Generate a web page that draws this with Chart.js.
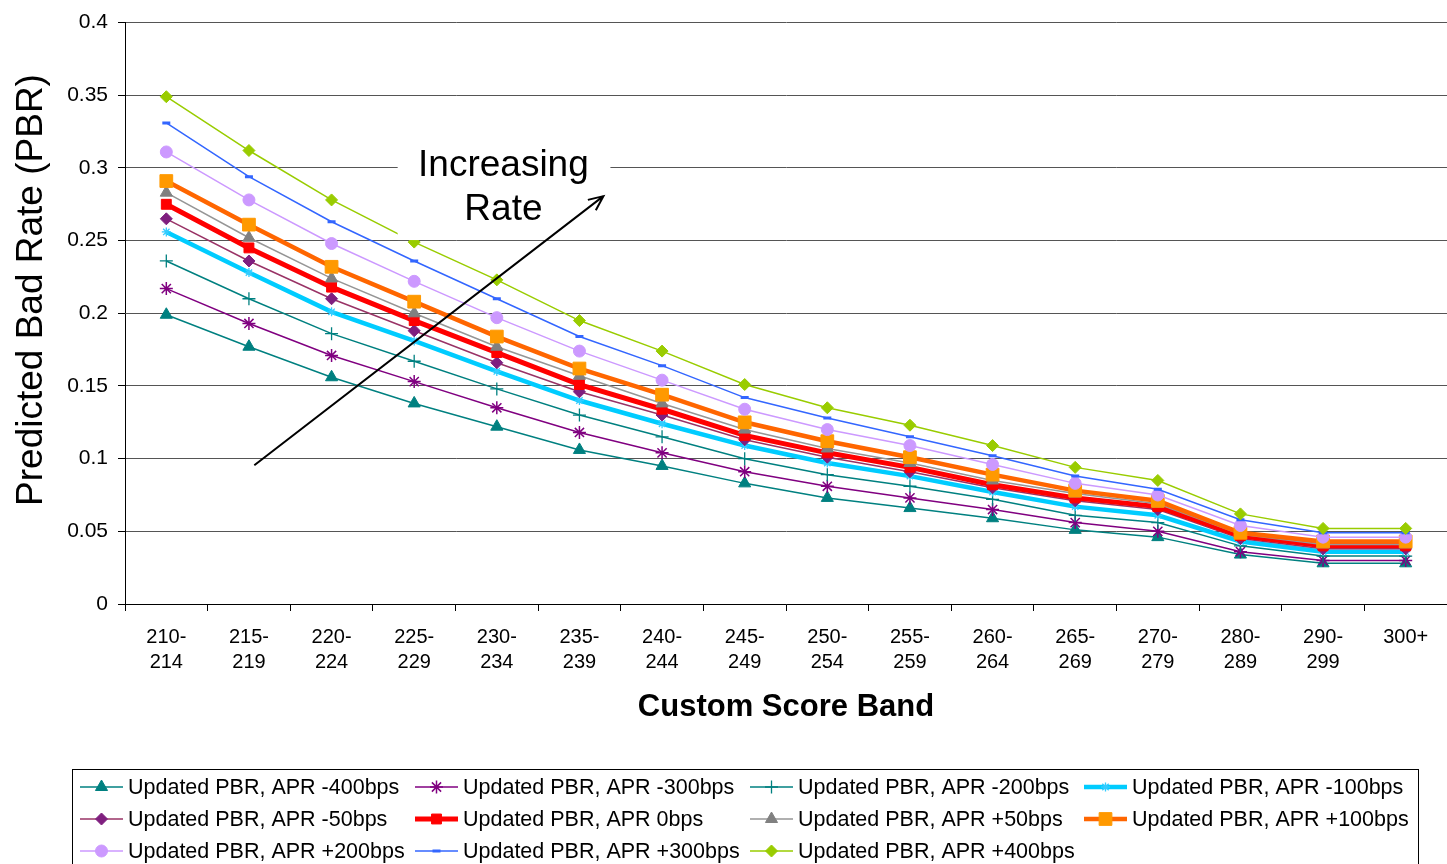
<!DOCTYPE html>
<html>
<head>
<meta charset="utf-8">
<title>Predicted Bad Rate by Custom Score Band</title>
<script src="https://cdn.jsdelivr.net/npm/chart.js@4/dist/chart.umd.min.js"></script>
<style>
  html, body { margin: 0; padding: 0; background: #ffffff; }
  #wrap { width: 1447px; height: 864px; position: relative; overflow: hidden; }
  canvas { display: block; }
</style>
</head>
<body>
<div id="wrap"><canvas id="chart" width="1447" height="864"></canvas></div>
<script>
// Score bands (x categories), drawn as two-line tick labels
const scoreBands = [
  ["210-", "214"], ["215-", "219"], ["220-", "224"], ["225-", "229"],
  ["230-", "234"], ["235-", "239"], ["240-", "244"], ["245-", "249"],
  ["250-", "254"], ["255-", "259"], ["260-", "264"], ["265-", "269"],
  ["270-", "279"], ["280-", "289"], ["290-", "299"], ["300+"]
];

// Predicted bad rate per band, one array per APR shift
const aprMinus400 = [0.199, 0.177, 0.156, 0.138, 0.122, 0.106, 0.095, 0.083, 0.073, 0.066, 0.059, 0.051, 0.046, 0.034, 0.028, 0.028];
const aprMinus300 = [0.217, 0.193, 0.171, 0.153, 0.135, 0.118, 0.104, 0.091, 0.081, 0.073, 0.065, 0.056, 0.050, 0.036, 0.030, 0.030];
const aprMinus200 = [0.236, 0.210, 0.186, 0.167, 0.148, 0.130, 0.115, 0.100, 0.089, 0.081, 0.072, 0.061, 0.056, 0.040, 0.033, 0.033];
const aprMinus100 = [0.256, 0.228, 0.201, 0.181, 0.160, 0.140, 0.124, 0.109, 0.097, 0.088, 0.077, 0.067, 0.061, 0.043, 0.036, 0.036];
const aprMinus50  = [0.265, 0.236, 0.210, 0.188, 0.166, 0.146, 0.130, 0.113, 0.101, 0.091, 0.080, 0.071, 0.065, 0.045, 0.038, 0.038];
const aprZero     = [0.275, 0.245, 0.218, 0.195, 0.173, 0.151, 0.134, 0.116, 0.104, 0.094, 0.082, 0.073, 0.067, 0.047, 0.040, 0.040];
const aprPlus50   = [0.283, 0.252, 0.224, 0.200, 0.177, 0.157, 0.138, 0.120, 0.107, 0.097, 0.085, 0.076, 0.069, 0.048, 0.041, 0.041];
const aprPlus100  = [0.291, 0.261, 0.232, 0.208, 0.184, 0.162, 0.144, 0.125, 0.112, 0.101, 0.089, 0.078, 0.071, 0.049, 0.043, 0.043];
const aprPlus200  = [0.311, 0.278, 0.248, 0.222, 0.197, 0.174, 0.154, 0.134, 0.120, 0.109, 0.096, 0.083, 0.075, 0.054, 0.046, 0.046];
const aprPlus300  = [0.331, 0.294, 0.263, 0.236, 0.210, 0.184, 0.164, 0.142, 0.128, 0.115, 0.102, 0.088, 0.079, 0.058, 0.049, 0.049];
const aprPlus400  = [0.349, 0.312, 0.278, 0.249, 0.223, 0.195, 0.174, 0.151, 0.135, 0.123, 0.109, 0.094, 0.085, 0.062, 0.052, 0.052];

const seriesNames = [
  "Updated PBR, APR -400bps", "Updated PBR, APR -300bps", "Updated PBR, APR -200bps", "Updated PBR, APR -100bps",
  "Updated PBR, APR -50bps",  "Updated PBR, APR 0bps",    "Updated PBR, APR +50bps",  "Updated PBR, APR +100bps",
  "Updated PBR, APR +200bps", "Updated PBR, APR +300bps", "Updated PBR, APR +400bps"
];
const seriesValues = [
  aprMinus400, aprMinus300, aprMinus200, aprMinus100, aprMinus50, aprZero,
  aprPlus50, aprPlus100, aprPlus200, aprPlus300, aprPlus400
];

// Y axis ticks
const yTickMin = 0, yTickMax = 0.4, yTickStep = 0.05;

// Axis titles and annotation text
const yTitle = "Predicted Bad Rate (PBR)";
const xTitle = "Custom Score Band";
const noteLines = ["Increasing", "Rate"];

const FONT = "'Liberation Sans', Arial, Helvetica, sans-serif";

// Line / marker look of each series
const seriesStyles = [
  { line: '#008080', fill: '#008080', width: 1.5, point: 'triangle', r: 7,   pw: 1 },
  { line: '#800080', fill: '#800080', width: 1.5, point: 'star',     r: 6.5, pw: 1.5 },
  { line: '#008080', fill: '#008080', width: 1.5, point: 'cross',    r: 6.5, pw: 1.3 },
  { line: '#00CCFF', fill: '#33CCFF', width: 4.5, point: 'star',     r: 4.5, pw: 1.3 },
  { line: '#993366', fill: '#7F1F7F', width: 1.5, point: 'rectRot',  r: 6,   pw: 1 },
  { line: '#FF0000', fill: '#FF0000', width: 5,   point: 'rect',     r: 7,   pw: 1 },
  { line: '#969696', fill: '#808080', width: 1.5, point: 'triangle', r: 7,   pw: 1 },
  { line: '#FF6600', fill: '#FF9900', width: 4.5, point: 'rect',     r: 9,   pw: 1 },
  { line: '#CC99FF', fill: '#CC99FF', width: 1.5, point: 'circle',   r: 6,   pw: 1 },
  { line: '#3366FF', fill: '#3366FF', width: 1.5, point: 'line',     r: 4,   pw: 3 },
  { line: '#99CC00', fill: '#99CC00', width: 1.5, point: 'rectRot',  r: 6,   pw: 1 }
];

const datasets = seriesValues.map((vals, i) => {
  const s = seriesStyles[i];
  return {
    label: seriesNames[i],
    data: vals,
    borderColor: s.line,
    borderWidth: s.width,
    backgroundColor: s.fill,
    pointStyle: s.point,
    pointRadius: s.r,
    pointHoverRadius: s.r,
    pointBackgroundColor: s.fill,
    pointBorderColor: s.fill,
    pointBorderWidth: s.pw,
    tension: 0,
    fill: false,
    order: -i   // later series sit on top
  };
});

// Rotated y axis title, placed a little above the plot's middle
const yTitlePlugin = {
  id: 'yTitleText',
  afterDraw(chart) {
    const { ctx } = chart;
    ctx.save();
    ctx.translate(32, 290);
    ctx.rotate(-Math.PI / 2);
    ctx.fillStyle = '#000000';
    ctx.font = `37px ${FONT}`;
    ctx.textAlign = 'center';
    ctx.textBaseline = 'middle';
    ctx.fillText(yTitle, 0, 0);
    ctx.restore();
  }
};

// Text box with an arrow pointing toward the higher-rate curves
const notePlugin = {
  id: 'rateNote',
  afterDatasetsDraw(chart) {
    const { ctx, scales: { x, y } } = chart;
    const left = x.getPixelForValue(2.8), right = x.getPixelForValue(5.375);
    const top = y.getPixelForValue(0.33), bottom = y.getPixelForValue(0.2504);
    ctx.save();
    ctx.fillStyle = '#ffffff';
    ctx.fillRect(left, top, right - left, bottom - top);
    ctx.fillStyle = '#000000';
    ctx.font = `37px ${FONT}`;
    ctx.textAlign = 'center';
    ctx.textBaseline = 'alphabetic';
    const cx = x.getPixelForValue(4.08);
    ctx.fillText(noteLines[0], cx, y.getPixelForValue(0.2944));
    ctx.fillText(noteLines[1], cx, y.getPixelForValue(0.2640));

    const x0 = x.getPixelForValue(1.065), y0 = y.getPixelForValue(0.0955);
    const x1 = x.getPixelForValue(5.29),  y1 = y.getPixelForValue(0.2806);
    ctx.strokeStyle = '#000000';
    ctx.lineWidth = 2;
    ctx.beginPath();
    ctx.moveTo(x0, y0);
    ctx.lineTo(x1, y1);
    const ang = Math.atan2(y1 - y0, x1 - x0);
    const head = 16, spread = 0.42;
    ctx.moveTo(x1 - head * Math.cos(ang - spread), y1 - head * Math.sin(ang - spread));
    ctx.lineTo(x1, y1);
    ctx.lineTo(x1 - head * Math.cos(ang + spread), y1 - head * Math.sin(ang + spread));
    ctx.stroke();
    ctx.restore();
  }
};

// Boxed legend laid out in four aligned columns
const boxLegendPlugin = {
  id: 'boxLegend',
  afterDraw(chart) {
    const { ctx } = chart;
    const colX = [80, 415, 750, 1084];
    const rowY = [787, 819, 851];
    const sampleLen = 43;
    ctx.save();
    ctx.strokeStyle = '#000000';
    ctx.lineWidth = 1;
    ctx.strokeRect(72.5, 769.5, 1346, 120);
    chart.data.datasets.forEach((ds, i) => {
      const cx = colX[i % 4], cy = rowY[Math.floor(i / 4)];
      ctx.strokeStyle = ds.borderColor;
      ctx.lineWidth = ds.borderWidth;
      ctx.lineCap = 'butt';
      ctx.beginPath();
      ctx.moveTo(cx, cy);
      ctx.lineTo(cx + sampleLen, cy);
      ctx.stroke();
      ctx.fillStyle = ds.pointBackgroundColor;
      ctx.strokeStyle = ds.pointBorderColor;
      ctx.lineWidth = ds.pointBorderWidth;
      Chart.helpers.drawPoint(ctx, {
        pointStyle: ds.pointStyle,
        radius: ds.pointRadius,
        borderWidth: ds.pointBorderWidth,
        rotation: 0
      }, cx + sampleLen / 2, cy);
      ctx.fillStyle = '#000000';
      ctx.font = `21.5px ${FONT}`;
      ctx.textAlign = 'left';
      ctx.textBaseline = 'middle';
      ctx.fillText(ds.label, cx + sampleLen + 5, cy + 1);
    });
    ctx.restore();
  }
};

new Chart(document.getElementById('chart'), {
  type: 'line',
  data: { labels: scoreBands, datasets },
  options: {
    responsive: false,
    animation: false,
    devicePixelRatio: 1,
    layout: { autoPadding: false, padding: { top: 22, right: 0, bottom: 0, left: 0 } },
    plugins: {
      legend: { display: false },
      tooltip: { enabled: false },
      title: { display: false }
    },
    scales: {
      x: {
        type: 'category',
        offset: true,
        grid: {
          offset: true,
          drawOnChartArea: false,
          drawTicks: true,
          tickLength: 7,
          tickColor: '#000000',
          tickWidth: 1
        },
        border: { display: true, color: '#000000', width: 1 },
        ticks: {
          autoSkip: false,
          maxRotation: 0,
          minRotation: 0,
          padding: 14,
          color: '#000000',
          font: { family: FONT, size: 20, lineHeight: 1.25 }
        },
        title: {
          display: true,
          text: xTitle,
          color: '#000000',
          font: { family: FONT, size: 31, weight: 'bold', lineHeight: 1.2 },
          padding: { top: 0, bottom: 138 }
        },
        afterFit(scale) {
          scale.height = 260;
          scale.paddingLeft = 0;
          scale.paddingRight = 0;
        }
      },
      y: {
        min: yTickMin,
        max: yTickMax,
        grid: {
          color: '#555555',
          lineWidth: 1,
          drawTicks: true,
          tickLength: 7,
          tickColor: '#000000'
        },
        border: { display: true, color: '#000000', width: 1 },
        ticks: {
          stepSize: yTickStep,
          padding: 10,
          color: '#000000',
          font: { family: FONT, size: 21 },
          callback: (v) => String(+Number(v).toFixed(2))
        },
        title: { display: false },
        afterFit(scale) { scale.width = 125; }
      }
    }
  },
  plugins: [notePlugin, boxLegendPlugin, yTitlePlugin]
});
</script>
</body>
</html>
